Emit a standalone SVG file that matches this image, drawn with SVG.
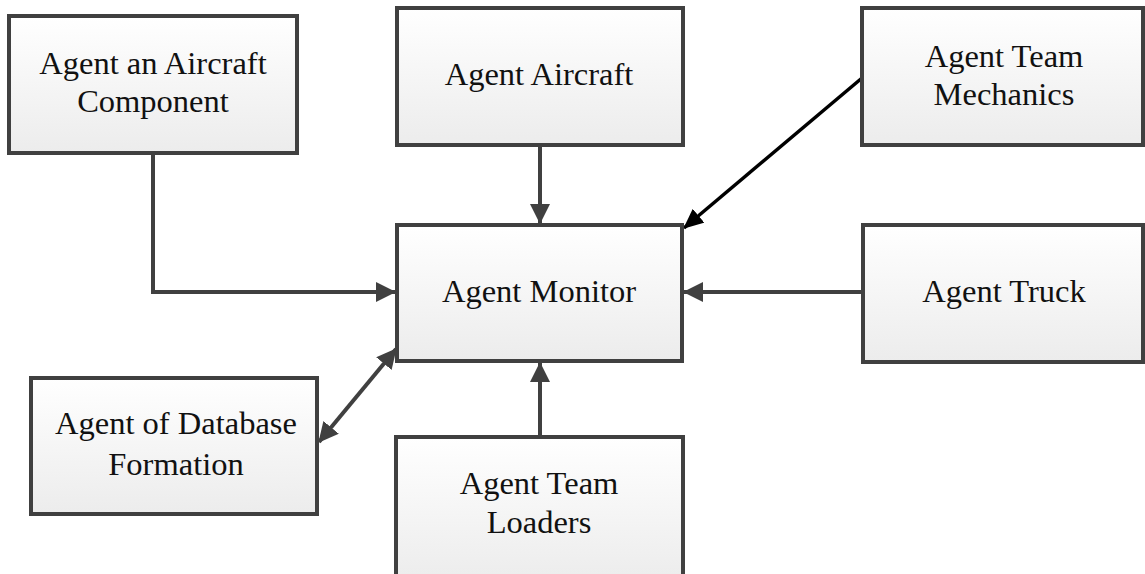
<svg xmlns="http://www.w3.org/2000/svg" width="1145" height="574" viewBox="0 0 1145 574">
<defs>
<linearGradient id="g" x1="0" y1="0" x2="0" y2="1">
<stop offset="0" stop-color="#ffffff"/>
<stop offset="1" stop-color="#ececec"/>
</linearGradient>
<marker id="ah" viewBox="0 0 20 20" refX="19" refY="10" markerWidth="20" markerHeight="20" markerUnits="userSpaceOnUse" orient="auto-start-reverse">
<path d="M0,0 L20,10 L0,20 Z" fill="#404040"/>
</marker>
<marker id="ahk" viewBox="0 0 20 18" refX="19" refY="9" markerWidth="20" markerHeight="18" markerUnits="userSpaceOnUse" orient="auto">
<path d="M0,0 L20,9 L0,18 Z" fill="#000000"/>
</marker>
</defs>
<style>
.box{fill:url(#g);stroke:#404040;stroke-width:4}
.t{font-family:'Liberation Serif','Times New Roman',Times,serif;font-size:32.5px;fill:#111111;text-anchor:middle}
.c{fill:none;stroke:#404040;stroke-width:4}
</style>
<rect width="1145" height="574" fill="#ffffff"/>
<g id="connectors">
<path class="c" d="M153,153 V292 H395" marker-end="url(#ah)"/>
<path class="c" d="M540,145 V223" marker-end="url(#ah)"/>
<path d="M862,78 L684,228" fill="none" stroke="#000" stroke-width="3.5" marker-end="url(#ahk)"/>
<path class="c" d="M863,292 H684" marker-end="url(#ah)"/>
<path class="c" d="M540,437 V363" marker-end="url(#ah)"/>
<path class="c" d="M319,442 L396,349" marker-start="url(#ah)" marker-end="url(#ah)"/>
</g>
<g id="n-component"><rect class="box" x="9" y="16" width="288" height="137"/><text class="t" x="153" y="74">Agent an Aircraft</text><text class="t" x="153" y="112">Component</text></g>
<g id="n-aircraft"><rect class="box" x="397" y="8" width="286" height="137"/><text class="t" x="539" y="85">Agent Aircraft</text></g>
<g id="n-mechanics"><rect class="box" x="862" y="8" width="281" height="137"/><text class="t" x="1004" y="67">Agent Team</text><text class="t" x="1004" y="105">Mechanics</text></g>
<g id="n-monitor"><rect class="box" x="397" y="225" width="285" height="136"/><text class="t" x="539" y="302">Agent Monitor</text></g>
<g id="n-truck"><rect class="box" x="863" y="225" width="280" height="137"/><text class="t" x="1004" y="302">Agent Truck</text></g>
<g id="n-database"><rect class="box" x="31" y="378" width="286" height="136"/><text class="t" x="176" y="434">Agent of Database</text><text class="t" x="176" y="475">Formation</text></g>
<g id="n-loaders"><rect class="box" x="396" y="437" width="287" height="145"/><text class="t" x="539" y="494">Agent Team</text><text class="t" x="539" y="533">Loaders</text></g>
</svg>
